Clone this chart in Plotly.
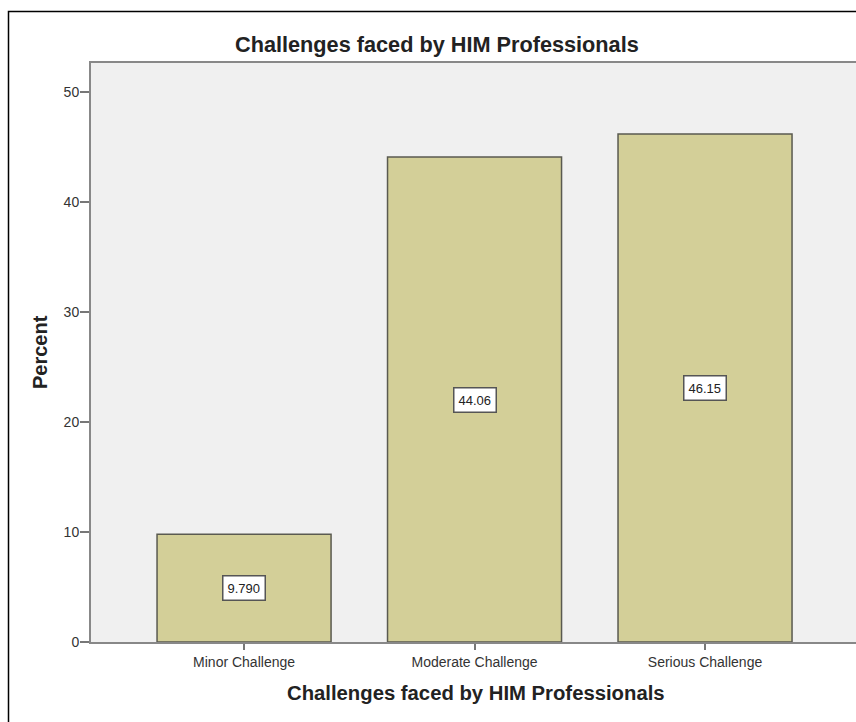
import plotly.graph_objects as go

categories = ["Minor Challenge", "Moderate Challenge", "Serious Challenge"]
percents = [9.790, 44.06, 46.15]
value_labels = ["9.790", "44.06", "46.15"]
y_ticks = [0, 10, 20, 30, 40, 50]

W, H = 856, 722
L, R, T, B = 91, 0, 63, 80
pw, ph = W - L - R, H - T - B

def px_x(p):
    return (p - L) / pw

def px_y(p):
    return (H - B - p) / ph

FONT = "Arial, Liberation Sans"

fig = go.Figure()
fig.add_trace(go.Bar(
    x=list(range(len(categories))), y=percents,
    width=0.755,
    marker=dict(color="#d3cf98", line=dict(color="#5a5a50", width=1.5)),
    hoverinfo="skip",
))

for i, (v, lab) in enumerate(zip(percents, value_labels)):
    fig.add_annotation(x=i, y=v / 2, xref="x", yref="y", text=lab, showarrow=False,
                       font=dict(family=FONT, size=13, color="#222"),
                       bgcolor="white", bordercolor="#555", borderwidth=1.5, borderpad=4)

# title and axis titles
fig.add_annotation(x=px_x(437), y=px_y(45), xref="paper", yref="paper",
                   text="<b>Challenges faced by HIM Professionals</b>", showarrow=False,
                   font=dict(family=FONT, size=21.7, color="#222"),
                   xanchor="center", yanchor="middle")
fig.add_annotation(x=px_x(476), y=px_y(693), xref="paper", yref="paper",
                   text="<b>Challenges faced by HIM Professionals</b>", showarrow=False,
                   font=dict(family=FONT, size=20.3, color="#222"),
                   xanchor="center", yanchor="middle")
fig.add_annotation(x=px_x(40), y=px_y(352), xref="paper", yref="paper",
                   text="<b>Percent</b>", showarrow=False, textangle=-90,
                   font=dict(family=FONT, size=20, color="#222"),
                   xanchor="center", yanchor="middle")

# outer frame
fig.add_shape(type="rect", xref="paper", yref="paper",
              x0=px_x(8.5), x1=px_x(900), y0=px_y(800), y1=px_y(11.5),
              line=dict(color="black", width=1.5), layer="above")

fig.update_layout(
    width=W, height=H,
    margin=dict(l=L, r=R, t=T, b=B),
    paper_bgcolor="white", plot_bgcolor="#f0f0f0",
    showlegend=False,
    xaxis=dict(range=[-0.664, 2.655], tickmode="array",
               tickvals=list(range(len(categories))), ticktext=categories,
               ticks="outside", ticklen=6, tickwidth=2, tickcolor="#777",
               showline=True, linecolor="#888", linewidth=2, mirror=True,
               showgrid=False, zeroline=False,
               tickfont=dict(family=FONT, size=14, color="#333")),
    yaxis=dict(range=[0, 52.6], tickvals=y_ticks,
               ticks="outside", ticklen=9, tickwidth=2, tickcolor="#777",
               showline=True, linecolor="#888", linewidth=2,
               showgrid=False, zeroline=False, ticklabelstandoff=-2,
               tickfont=dict(family=FONT, size=14, color="#333")),
)

fig.write_html("out.html")
